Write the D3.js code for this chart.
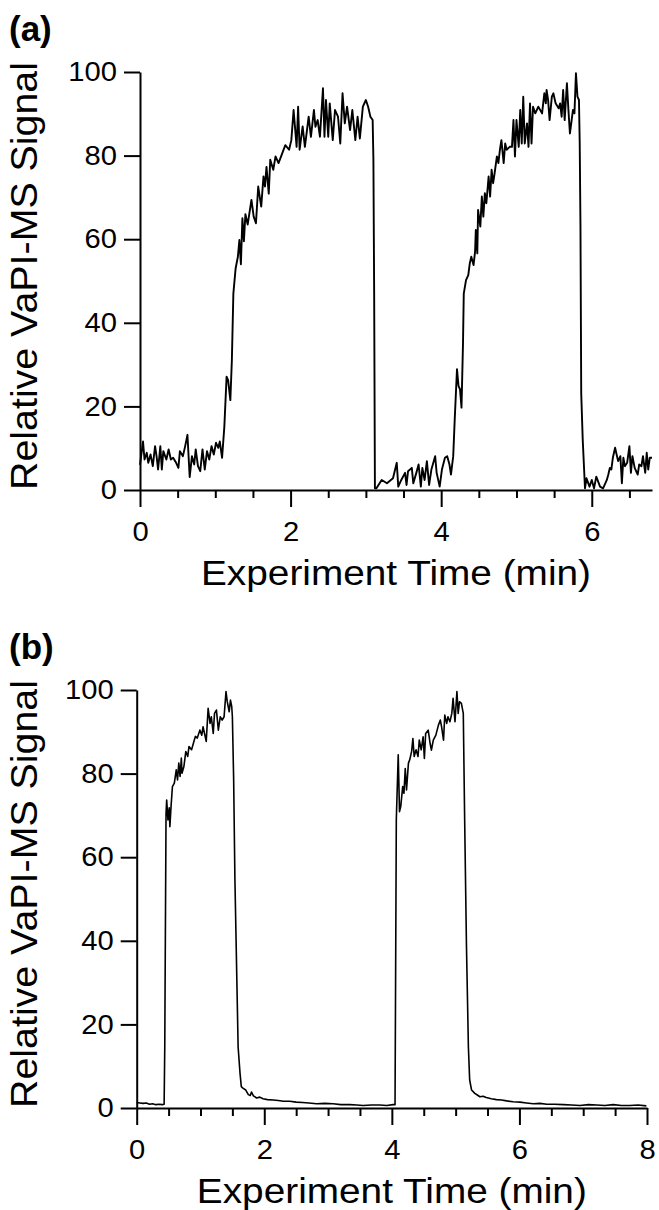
<!DOCTYPE html>
<html>
<head>
<meta charset="utf-8">
<script src="https://cdn.jsdelivr.net/npm/d3@7"></script>
<style>
  html, body { margin: 0; padding: 0; background: #fff; }
  #chart { width: 659px; height: 1210px; }
</style>
</head>
<body>
<div id="chart"></div>
<script>
// ── DATA ──────────────────────────────────────────────────────────────────
// Panel (a): slow switching, time in minutes, signal in % of max
const aTime = [
  0.00,0.04,0.06,0.09,0.11,0.14,0.17,0.20,0.22,0.24,0.27,0.29,0.31,0.35,0.38,0.41,0.44,0.48,0.51,0.53,
  0.57,0.60,0.63,0.66,0.69,0.72,0.74,0.77,0.80,0.83,0.86,0.89,0.92,0.95,0.98,1.01,1.04,1.06,1.09,
  1.12,1.15,1.17,1.20,1.22,1.24,1.27,1.30,1.32,1.34,1.36,1.38,1.40,1.43,1.48,1.51,1.54,1.57,1.61,1.64,
  1.66,1.68,1.71,1.73,1.77,1.80,1.84,1.89,1.93,1.98,2.01,2.04,2.08,2.10,2.12,2.16,2.19,2.24,2.27,2.31,
  2.33,2.36,2.39,2.43,2.45,2.47,2.50,2.52,2.56,2.59,2.63,2.66,2.69,2.72,2.75,2.79,2.82,2.86,2.89,2.92,
  2.96,3.00,3.03,3.06,3.09,3.10,3.11,3.12,
  3.14,3.21,3.28,3.36,3.41,3.43,3.47,3.52,3.54,3.56,3.61,3.63,3.67,3.70,3.73,3.75,3.78,3.81,3.84,3.87,
  3.92,3.94,3.98,4.01,4.05,4.08,4.11,4.13,4.16,4.18,4.21,4.23,4.25,4.27,4.29,4.30,4.33,4.36,4.38,4.40,
  4.43,4.45,4.46,4.48,4.49,4.52,4.54,4.56,4.58,4.60,4.63,4.65,4.67,4.69,4.71,4.74,4.76,4.78,4.80,4.83,
  4.85,4.87,4.91,4.94,4.96,4.98,5.00,5.03,5.05,5.07,5.09,5.11,5.14,5.16,5.18,5.20,5.22,5.25,5.29,5.34,
  5.37,5.39,5.40,5.42,5.44,5.47,5.49,5.52,5.56,5.58,5.60,5.62,5.64,5.67,5.69,5.71,5.75,5.77,5.79,5.81,
  5.83,5.84,5.85,5.86,5.88,5.91,5.93,5.97,6.00,6.03,6.06,6.11,6.15,6.20,6.22,6.24,6.26,6.28,6.31,6.33,
  6.35,6.38,6.40,6.42,6.44,6.47,6.50,6.52,6.54,6.57,6.61,6.63,6.66,6.68,6.71,6.73,6.75,6.77,6.80
];
const aSignal = [
  6.0,11.6,7.3,8.9,6.5,8.5,5.7,10.5,8.1,4.9,10.5,4.9,9.3,7.3,9.7,7.3,7.7,6.5,5.3,9.3,
  8.1,10.5,13.2,3.1,8.1,6.1,9.7,5.7,4.5,9.7,4.9,9.3,7.3,10.5,8.5,11.3,10.1,11.6,7.7,
  15.1,27.1,26.3,21.5,31.0,47.0,53.0,55.8,59.8,54.0,65.0,59.5,66.0,63.5,69.4,65.4,63.8,72.6,67.8,75.0,
  72.6,77.3,70.9,79.0,76.6,79.8,78.2,80.6,82.5,81.4,83.7,90.9,82.1,91.7,81.4,87.0,82.1,89.3,84.5,90.9,
  86.9,88.5,84.5,96.1,84.5,93.3,84.5,92.5,83.7,90.9,89.3,82.9,94.9,87.7,91.7,86.1,90.9,83.7,89.3,84.1,
  91.7,93.3,91.7,89.3,88.5,78.9,47.0,0.4,
  0.4,2.4,1.6,2.8,6.5,0.8,2.4,4.1,1.2,4.5,5.3,1.6,4.1,6.1,0.8,5.3,2.4,6.9,1.2,4.9,
  8.1,4.1,0.8,4.9,7.7,8.1,6.1,3.7,8.1,16.9,28.9,24.9,24.1,19.7,35.2,47.0,50.2,51.4,54.2,55.8,
  53.8,57.0,62.2,56.6,67.0,63.0,70.2,65.4,71.0,68.6,75.0,70.2,76.6,73.4,75.8,79.8,78.2,81.4,83.7,78.2,
  82.9,81.4,82.1,82.1,88.5,79.8,88.5,82.1,90.9,82.9,94.1,82.9,87.7,82.1,92.5,82.9,91.7,90.1,91.7,90.1,
  94.9,92.5,95.7,93.3,88.5,94.1,94.9,92.5,91.3,92.5,89.3,95.7,88.5,97.3,90.9,85.3,90.9,90.1,99.7,94.1,
  93.3,82.9,63.0,23.1,12.0,0.4,2.8,0.8,2.4,0.4,3.2,0.8,0.4,2.4,3.7,5.3,4.9,7.7,10.1,8.5,
  6.9,8.1,1.6,7.7,5.7,6.5,10.5,4.1,8.1,5.3,3.7,6.1,5.7,8.1,4.1,8.9,4.9,7.7,7.7
];

// Panel (b): fast switching
const bTime = [
  0.00,0.05,0.10,0.15,0.20,0.25,0.30,0.35,0.40,0.43,0.44,0.46,0.47,0.49,0.51,0.52,0.54,0.56,0.59,0.62,
  0.64,0.66,0.68,0.70,0.71,0.74,0.77,0.80,0.82,0.86,0.89,0.92,0.95,0.99,1.02,1.04,1.09,1.12,1.15,1.17,
  1.20,1.22,1.25,1.28,1.31,1.34,1.37,1.40,1.42,1.45,1.47,1.49,1.50,1.52,1.54,1.57,1.59,1.62,1.64,1.67,
  1.71,1.75,1.78,1.80,1.83,1.88,1.93,1.98,2.05,2.14,2.22,2.30,2.40,2.50,2.60,2.70,2.82,2.95,3.08,3.20,
  3.34,3.45,3.55,3.68,3.81,3.92,4.02,4.05,4.07,4.10,4.12,4.14,4.17,4.19,4.21,4.23,4.26,4.28,4.31,4.33,
  4.35,4.38,4.41,4.43,4.46,4.49,4.51,4.53,4.57,4.60,4.62,4.65,4.69,4.73,4.76,4.78,4.81,4.83,4.86,4.88,
  4.91,4.94,4.96,4.99,5.00,5.02,5.04,5.06,5.09,5.12,5.14,5.17,5.20,5.22,5.25,5.30,5.34,5.38,5.43,5.48,
  5.56,5.64,5.72,5.80,5.90,6.01,6.11,6.22,6.32,6.43,6.55,6.69,6.82,6.95,7.08,7.21,7.34,7.47,7.60,7.73,
  7.86,7.99
];
const bSignal = [
  1.3,1.2,1.1,1.2,0.9,1.0,0.8,0.9,0.8,0.9,14.6,70.5,73.7,68.9,71.8,67.3,72.5,76.9,77.7,80.9,
  78.5,82.5,79.3,83.7,80.1,81.7,85.3,84.1,86.5,85.7,87.3,88.9,88.5,90.4,89.2,91.2,87.7,95.6,92.0,93.6,
  89.6,94.4,95.2,90.4,93.6,92.8,93.6,99.6,97.2,94.8,97.6,96.0,93.6,78.5,54.5,30.6,14.6,8.3,5.1,4.7,
  4.3,3.2,3.0,3.8,2.9,2.4,2.6,2.2,2.0,1.9,1.8,1.6,1.6,1.4,1.3,1.2,1.0,1.1,1.0,0.8,
  0.8,0.7,0.6,0.7,0.7,0.6,0.8,0.8,69.0,84.5,70.9,72.2,76.9,75.3,81.2,76.1,82.5,83.3,85.3,88.4,
  84.1,85.7,84.1,88.0,85.7,88.8,83.6,89.6,90.4,87.2,85.6,88.0,89.2,91.6,92.8,91.2,88.0,94.0,92.0,93.6,
  92.4,94.4,98.0,92.4,94.8,99.6,94.4,97.2,96.8,94.4,70.5,38.6,14.6,6.7,4.3,3.5,3.1,2.7,2.8,2.5,
  2.2,2.0,1.9,1.7,1.5,1.4,1.2,1.0,1.1,0.9,0.9,0.8,0.7,0.6,0.8,0.7,0.6,0.8,0.6,0.6,
  0.7,0.5
];

const yTicks      = [0, 20, 40, 60, 80, 100];
const xMajorA     = [0, 2, 4, 6];
const xMinorA     = [0.5, 1, 1.5, 2.5, 3, 3.5, 4.5, 5, 5.5, 6.5];
const xMajorB     = [0, 2, 4, 6, 8];
const xMinorB     = [0.5, 1, 1.5, 2.5, 3, 3.5, 4.5, 5, 5.5, 6.5, 7, 7.5];
const panelLabels = ["(a)", "(b)"];
const xTitle      = "Experiment Time (min)";
const yTitle      = "Relative VaPI-MS Signal";

(function () {
  const FONT = "'Liberation Sans', Arial, Helvetica, sans-serif";
  const AXIS_W = 2;

  const svg = d3.select("#chart")
    .append("svg")
    .attr("width", 659)
    .attr("height", 1210)
    .style("display", "block");

  svg.append("rect")
    .attr("width", 659)
    .attr("height", 1210)
    .attr("fill", "#fff");

  // widen glyphs a touch — the original lettering is broader than Liberation
  const stretch = (sel, k) => sel.each(function () {
    const w = this.getComputedTextLength();
    d3.select(this).attr("textLength", w * k).attr("lengthAdjust", "spacingAndGlyphs");
  });

  // ── PANELS ──────────────────────────────────────────────────────────────
  const panels = [
    { label: panelLabels[0], t: aTime, v: aSignal, xMax: 6.8, major: xMajorA, minor: xMinorA,
      left: 140, right: 652, top: 72, bottom: 490, lw: 1.9 },
    { label: panelLabels[1], t: bTime, v: bSignal, xMax: 8, major: xMajorB, minor: xMinorB,
      left: 136.7, right: 647, top: 690, bottom: 1108, lw: 1.6 },
  ];

  panels.forEach(p => {
    const x = d3.scaleLinear().domain([0, p.xMax]).range([p.left, p.right]);
    const y = d3.scaleLinear().domain([0, 100]).range([p.bottom, p.top]);

    // minor x ticks (no labels)
    svg.append("g")
      .attr("transform", `translate(0,${p.bottom})`)
      .call(d3.axisBottom(x).tickValues(p.minor).tickSize(8).tickFormat("").tickSizeOuter(0))
      .call(ax => ax.select(".domain").remove())
      .call(ax => ax.selectAll(".tick line").attr("stroke", "#000").attr("stroke-width", AXIS_W));

    // major x ticks + axis line
    svg.append("g")
      .attr("transform", `translate(0,${p.bottom})`)
      .call(d3.axisBottom(x).tickValues(p.major).tickSize(17).tickSizeOuter(0).tickPadding(15)
        .tickFormat(d3.format("d")))
      .call(ax => ax.select(".domain").attr("stroke", "#000").attr("stroke-width", AXIS_W))
      .call(ax => ax.selectAll(".tick line").attr("stroke", "#000").attr("stroke-width", AXIS_W))
      .call(ax => ax.selectAll(".tick text")
        .attr("fill", "#000")
        .attr("font-family", FONT)
        .attr("font-size", "27px")
        .call(stretch, 1.08));

    // y axis
    svg.append("g")
      .attr("transform", `translate(${p.left},0)`)
      .call(d3.axisLeft(y).tickValues(yTicks).tickSize(16).tickSizeOuter(0).tickPadding(7))
      .call(ax => ax.select(".domain").attr("stroke", "#000").attr("stroke-width", AXIS_W))
      .call(ax => ax.selectAll(".tick line").attr("stroke", "#000").attr("stroke-width", AXIS_W))
      .call(ax => ax.selectAll(".tick text")
        .attr("fill", "#000")
        .attr("font-family", FONT)
        .attr("font-size", "27px")
        .call(stretch, 1.08));

    // signal trace
    const line = d3.line()
      .x((_, i) => x(p.t[i]))
      .y(d => y(d));

    svg.append("path")
      .datum(p.v)
      .attr("fill", "none")
      .attr("stroke", "#000")
      .attr("stroke-width", p.lw)
      .attr("stroke-linejoin", "round")
      .attr("d", line);

    // axis titles
    svg.append("text")
      .attr("x", (p.left + p.right) / 2)
      .attr("y", p.bottom + 95)
      .attr("text-anchor", "middle")
      .attr("font-family", FONT)
      .attr("font-size", "35px")
      .attr("textLength", 390)
      .attr("lengthAdjust", "spacingAndGlyphs")
      .text(xTitle);

    svg.append("text")
      .attr("transform", `translate(37,${p.bottom}) rotate(-90)`)
      .attr("text-anchor", "start")
      .attr("font-family", FONT)
      .attr("font-size", "36px")
      .attr("textLength", 428)
      .attr("lengthAdjust", "spacingAndGlyphs")
      .text(yTitle);

    // panel letter
    svg.append("text")
      .attr("x", 9)
      .attr("y", p.top - 31)
      .attr("font-family", FONT)
      .attr("font-size", "35px")
      .attr("font-weight", "bold")
      .text(p.label);
  });
})();
</script>
</body>
</html>
